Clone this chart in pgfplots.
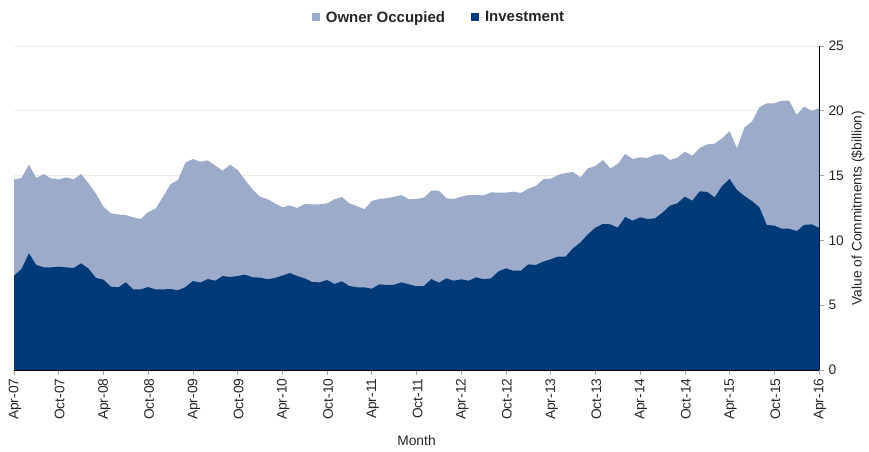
\documentclass[border=0pt]{standalone}
\usepackage{pgfplots}
\usepackage{pgfplotstable}
\pgfplotsset{compat=1.18}
\usepackage{fontspec}
\setmainfont{Liberation Sans}

\definecolor{ownerocc}{RGB}{157,171,203}
\definecolor{invest}{RGB}{0,58,120}

% month index (0 = Apr-07), total commitments, investment ($billion)
\pgfplotstableread{
i tot inv
0 14.71 7.28
1 14.81 7.79
2 15.84 9.00
3 14.81 8.10
4 15.12 7.92
5 14.78 7.92
6 14.71 7.97
7 14.87 7.92
8 14.71 7.87
9 15.12 8.23
10 14.40 7.82
11 13.60 7.10
12 12.60 6.97
13 12.09 6.43
14 12.00 6.38
15 11.95 6.77
16 11.78 6.22
17 11.65 6.22
18 12.19 6.40
19 12.45 6.22
20 13.37 6.22
21 14.33 6.25
22 14.66 6.15
23 16.00 6.40
24 16.28 6.87
25 16.07 6.74
26 16.17 7.02
27 15.77 6.89
28 15.38 7.25
29 15.84 7.18
30 15.43 7.25
31 14.66 7.36
32 13.94 7.15
33 13.37 7.13
34 13.19 7.00
35 12.86 7.10
36 12.55 7.28
37 12.70 7.48
38 12.50 7.25
39 12.81 7.07
40 12.78 6.79
41 12.78 6.76
42 12.86 6.94
43 13.17 6.64
44 13.35 6.84
45 12.86 6.48
46 12.65 6.38
47 12.40 6.38
48 13.04 6.27
49 13.19 6.61
50 13.25 6.56
51 13.37 6.58
52 13.50 6.76
53 13.17 6.61
54 13.19 6.46
55 13.30 6.48
56 13.84 7.02
57 13.84 6.74
58 13.25 7.07
59 13.19 6.89
60 13.37 7.00
61 13.50 6.89
62 13.50 7.15
63 13.47 7.00
64 13.71 7.07
65 13.68 7.61
66 13.68 7.84
67 13.76 7.66
68 13.66 7.66
69 13.99 8.15
70 14.20 8.10
71 14.71 8.36
72 14.76 8.54
73 15.05 8.75
74 15.20 8.75
75 15.28 9.39
76 14.87 9.85
77 15.56 10.47
78 15.74 10.98
79 16.20 11.27
80 15.56 11.24
81 15.90 10.98
82 16.67 11.80
83 16.28 11.52
84 16.41 11.78
85 16.36 11.65
86 16.62 11.70
87 16.64 12.14
88 16.20 12.68
89 16.38 12.86
90 16.85 13.37
91 16.54 13.06
92 17.13 13.79
93 17.41 13.74
94 17.46 13.32
95 17.88 14.20
96 18.44 14.74
97 17.10 13.89
98 18.72 13.43
99 19.16 13.04
100 20.27 12.55
101 20.58 11.19
102 20.58 11.14
103 20.78 10.90
104 20.78 10.90
105 19.68 10.72
106 20.32 11.19
107 20.01 11.24
108 20.19 10.98
}\commitments

\begin{document}
\begin{tikzpicture}
\begin{axis}[
    at={(14bp,82bp)}, anchor=south west,
    scale only axis,
    width=805bp, height=324bp,
    xmin=0, xmax=108,
    ymin=0, ymax=25,
    axis x line*=bottom,
    axis y line*=right,
    axis line style={-},
    x axis line style={black, line width=1.6bp},
    y axis line style={black, line width=0.8bp},
    xtick={0,6,...,108},
    xticklabels={Apr-07,Oct-07,Apr-08,Oct-08,Apr-09,Oct-09,Apr-10,Oct-10,Apr-11,Oct-11,Apr-12,Oct-12,Apr-13,Oct-13,Apr-14,Oct-14,Apr-15,Oct-15,Apr-16},
    xticklabel style={rotate=90, anchor=east, yshift=-1bp},
    ytick={0,5,...,25},
    yticklabel style={anchor=west, xshift=1bp},
    tick align=outside,
    major tick length=5bp,
    tick style={gray!70, line width=0.6bp},
    ymajorgrids=true,
    grid style={gray!15, line width=0.8bp},
    ticklabel style={font=\fontsize{13.8bp}{15bp}\selectfont, text=black!85},
    /pgf/number format/assume math mode=true,
    xlabel={Month},
    ylabel={Value of Commitments (\$billion)},
    every axis x label/.style={at={(axis description cs:0.5,0)}, anchor=center, yshift=-71bp, font=\fontsize{13.8bp}{15bp}\selectfont, text=black!85},
    every axis y label/.style={at={(axis description cs:1,0.5)}, rotate=90, anchor=center, yshift=-39bp, font=\fontsize{13.8bp}{15bp}\selectfont, text=black!85},
    legend columns=2,
    legend style={at={(axis description cs:0.528,1.088)}, anchor=center, draw=none, fill=none,
        font=\bfseries\fontsize{15bp}{16bp}\selectfont, text=black!85,
        /tikz/every even column/.append style={column sep=24bp}},
    legend image code/.code={\fill[#1] (0bp,-4bp) rectangle (8bp,4bp); \path (0bp,0bp) -- (12bp,0bp);},
]
\addplot[fill=ownerocc, draw=none] table[x=i, y=tot] {\commitments} \closedcycle;
\addlegendentry{Owner Occupied}
\addplot[fill=invest, draw=none] table[x=i, y=inv] {\commitments} \closedcycle;
\addlegendentry{Investment}
\end{axis}
\pgfresetboundingbox
\path[use as bounding box] (0,0) rectangle (869bp,452bp);
\end{tikzpicture}
\end{document}
